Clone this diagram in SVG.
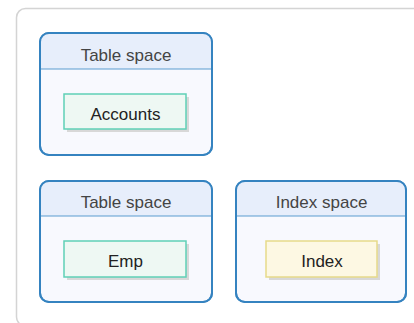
<svg xmlns="http://www.w3.org/2000/svg" width="414" height="323" viewBox="0 0 414 323">
<defs>
<style>
.outer{fill:#fff;stroke:#d4d4d4;stroke-width:1.5}
.space{fill:#f8f9fe;stroke:#3583c0;stroke-width:2}
.head{fill:#e7eefb}
.sep{stroke:#5a9bd0;stroke-width:1.2}
.ht{font-family:"Liberation Sans",Arial,sans-serif;font-size:17px;fill:#444;text-anchor:middle}
.it{font-family:"Liberation Sans",Arial,sans-serif;font-size:17px;fill:#222;text-anchor:middle}
.shadow{fill:#d8d8d8}
.green{fill:#eef8f3;stroke:#5fd0b6;stroke-width:1.5}
.yellow{fill:#fdf8e3;stroke:#e6da8a;stroke-width:1.5}
</style>
<clipPath id="c1"><rect x="40" y="33" width="172" height="122" rx="9"/></clipPath>
<clipPath id="c2"><rect x="40" y="181" width="172" height="121" rx="9"/></clipPath>
<clipPath id="c3"><rect x="236" y="181" width="170" height="121" rx="9"/></clipPath>
</defs>
<rect class="outer" x="16.5" y="8.5" width="420" height="317.5" rx="9"/>
<g id="ts1">
<rect class="space" x="40" y="33" width="172" height="122" rx="9"/>
<rect class="head" x="40" y="33" width="172" height="36" clip-path="url(#c1)"/>
<rect x="40" y="33" width="172" height="122" rx="9" fill="none" stroke="#3583c0" stroke-width="2"/>
<line class="sep" x1="41" y1="69" x2="211" y2="69"/>
<text class="ht" x="126" y="60.5">Table space</text>
</g>
<g id="accounts">
<rect class="shadow" x="67" y="97" width="122" height="35"/>
<rect class="green" x="64" y="94" width="122" height="35"/>
<text class="it" x="125.5" y="119.5">Accounts</text>
</g>
<g id="ts2">
<rect class="space" x="40" y="181" width="172" height="121" rx="9"/>
<rect class="head" x="40" y="181" width="172" height="35" clip-path="url(#c2)"/>
<rect x="40" y="181" width="172" height="121" rx="9" fill="none" stroke="#3583c0" stroke-width="2"/>
<line class="sep" x1="41" y1="216" x2="211" y2="216"/>
<text class="ht" x="126" y="208">Table space</text>
</g>
<g id="emp">
<rect class="shadow" x="67" y="244" width="122" height="36"/>
<rect class="green" x="64" y="241" width="122" height="36"/>
<text class="it" x="125.5" y="267">Emp</text>
</g>
<g id="is1">
<rect class="space" x="236" y="181" width="170" height="121" rx="9"/>
<rect class="head" x="236" y="181" width="170" height="35" clip-path="url(#c3)"/>
<rect x="236" y="181" width="170" height="121" rx="9" fill="none" stroke="#3583c0" stroke-width="2"/>
<line class="sep" x1="237" y1="216" x2="405" y2="216"/>
<text class="ht" x="321.5" y="208">Index space</text>
</g>
<g id="index">
<rect class="shadow" x="269" y="244" width="111" height="36"/>
<rect class="yellow" x="266" y="241" width="111" height="36"/>
<text class="it" x="322" y="267">Index</text>
</g>
<g id="connectors"></g>
</svg>
